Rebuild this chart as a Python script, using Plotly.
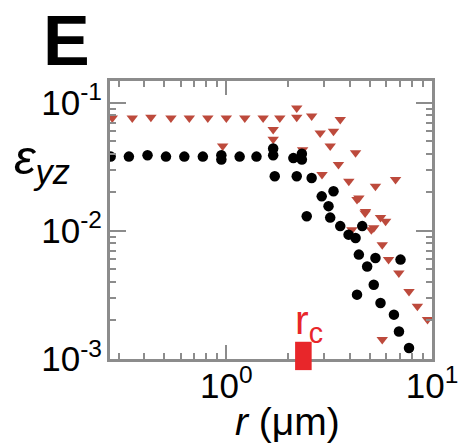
import numpy as np
import plotly.graph_objects as go

# ---- data ----
black_r = [0.274, 0.336, 0.414, 0.509, 0.625, 0.769, 0.946, 0.946, 1.161, 1.402, 1.690, 2.118,
           1.69, 2.33, 2.33, 1.72, 2.20, 2.60, 2.91, 3.32, 3.14, 3.20, 2.46, 3.58, 3.93, 4.25,
           4.58, 4.41, 4.84, 5.31, 5.21, 4.32, 5.62, 6.53, 6.91, 7.73, 7.03]
black_eps = [0.038, 0.038, 0.039, 0.038, 0.038, 0.038, 0.036, 0.039, 0.038, 0.038, 0.039, 0.037,
             0.044, 0.036, 0.040, 0.0267, 0.0267, 0.0259, 0.0186, 0.0204, 0.0156, 0.0127, 0.0130,
             0.0109, 0.00935, 0.0088, 0.0109, 0.00653, 0.00528, 0.00615, 0.0038, 0.00318,
             0.00274, 0.00222, 0.00164, 0.00122, 0.00597]

red_r = [0.279, 0.349, 0.430, 0.538, 0.661, 0.813, 1.0, 1.23, 1.51, 1.82, 2.20,
         2.20, 2.60, 2.86, 3.32, 3.58, 3.20, 3.51, 2.92, 3.94, 4.25, 4.41, 4.75, 5.31, 6.65,
         5.62, 5.95, 4.08, 5.21, 5.73, 6.15, 6.90, 7.73, 8.49, 9.51, 5.73, 1.69, 1.69, 0.96,
         2.35, 4.32, 4.73, 5.07]
red_eps = [0.076, 0.076, 0.077, 0.076, 0.076, 0.076, 0.076, 0.076, 0.076, 0.076, 0.077,
           0.091, 0.079, 0.058, 0.060, 0.074, 0.046, 0.033, 0.0275, 0.0244, 0.0407, 0.0181,
           0.0142, 0.0223, 0.0252, 0.0127, 0.0119, 0.0102, 0.0106, 0.00781, 0.00597, 0.0047,
           0.00337, 0.00258, 0.00203, 0.00142, 0.062, 0.052, 0.046, 0.043, 0.0176, 0.0138, 0.0102]

rc_value = 2.37
rc_lo, rc_hi = 2.16, 2.60

x_ticks = [1, 10]
x_ticklabels = ["10<sup>0</sup>", "10<sup>1</sup>"]
y_ticks = [0.001, 0.01, 0.1]
y_ticklabels = ["10<sup>-3</sup>", "10<sup>-2</sup>", "10<sup>-1</sup>"]

FONT = "Liberation Sans"
GRAY = "#8c8c8c"

fig = go.Figure()
fig.add_trace(go.Scatter(x=red_r, y=red_eps, mode="markers",
                         marker=dict(symbol="triangle-down", size=10, color="#bd4a3c"),
                         showlegend=False))
fig.add_trace(go.Scatter(x=black_r, y=black_eps, mode="markers",
                         marker=dict(symbol="circle", size=10.5, color="black"),
                         showlegend=False))

axis_common = dict(showline=True, linecolor=GRAY, linewidth=3, mirror="ticks",
                   ticks="inside", tickcolor=GRAY, tickwidth=2, automargin=False,
                   showgrid=False, zeroline=False, ticklabeloverflow="allow",
                   tickfont=dict(family=FONT, size=35, color="black"))

fig.update_xaxes(type="log", range=[np.log10(0.272), 1.0], tickvals=x_ticks,
                 ticktext=x_ticklabels, ticklen=14, ticklabelstandoff=-6,
                 minor=dict(ticks="inside", ticklen=6, tickcolor=GRAY, tickwidth=2, dtick="D1"),
                 **axis_common)
fig.update_yaxes(type="log", range=[-3.0, -0.83], tickvals=y_ticks,
                 ticktext=y_ticklabels, ticklen=16, ticklabelstandoff=-2,
                 minor=dict(ticks="inside", ticklen=6, tickcolor=GRAY, tickwidth=2, dtick="D1"),
                 **axis_common)

# rc marker
fig.add_shape(type="rect", xref="x", yref="paper", x0=rc_lo, x1=rc_hi, y0=-0.04, y1=0.062,
              fillcolor="#e8262a", line=dict(width=0), layer="above")
fig.add_annotation(text="r<sub>c</sub>", xref="x", yref="paper", x=np.log10(rc_value) + 0.025,
                   y=0.03, yanchor="bottom", showarrow=False,
                   font=dict(family=FONT, size=41, color="#e8262a"))

# labels
fig.add_annotation(text="<b>E</b>", xref="paper", yref="paper", x=-0.215, y=1.29,
                   xanchor="left", yanchor="top", showarrow=False,
                   font=dict(family=FONT, size=70, color="black"))
fig.add_annotation(text="<i>ε</i><sub><i>yz</i></sub>", xref="paper", yref="paper",
                   x=-0.305, y=0.715, xanchor="left", yanchor="middle", showarrow=False,
                   font=dict(family=FONT, size=49, color="black"))
fig.add_annotation(text="<i>r</i> (μm)", xref="paper", yref="paper", x=0.55, y=-0.225,
                   xanchor="center", yanchor="middle", showarrow=False,
                   font=dict(family=FONT, size=39, color="black"))

fig.update_layout(width=458, height=445, margin=dict(l=110, r=26, t=81, b=86),
                  plot_bgcolor="white", paper_bgcolor="white")

fig.write_html("out.html")
